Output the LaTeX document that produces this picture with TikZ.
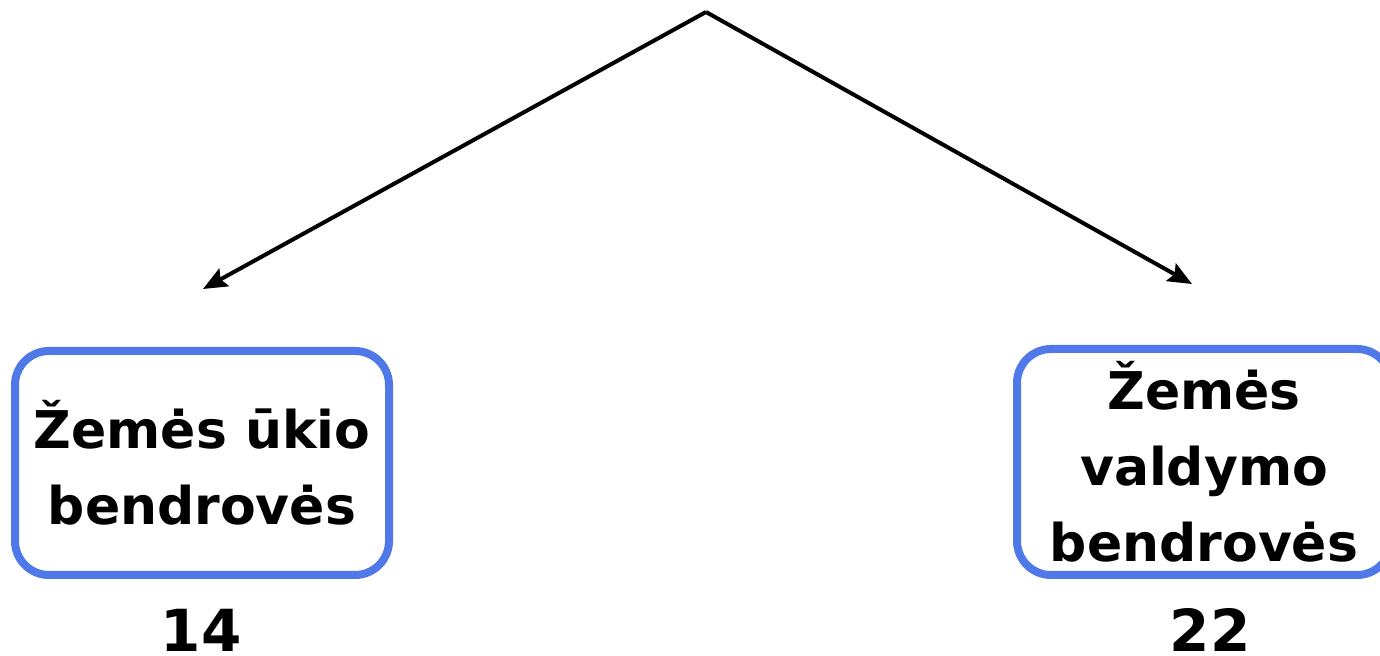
\documentclass[tikz,border=0pt]{standalone}
\usepackage{fontspec}
\setmainfont{DejaVu Sans}
\usetikzlibrary{arrows.meta,positioning}
\definecolor{boxblue}{HTML}{4F79E9}

\begin{document}
\begin{tikzpicture}[x=0.5pt,y=-0.5pt,->,>={Stealth[length=12pt,width=10pt,inset=2pt]},
                firm/.style={rounded corners=17pt,draw=boxblue,line width=4pt,
                    align=center,inner sep=0pt,
                    font=\bfseries\fontsize{26}{38}\selectfont},
                count/.style={anchor=base,inner sep=0pt,font=\bfseries\fontsize{29}{32}\selectfont},
                split/.style={line width=2pt,black}]
            \useasboundingbox (0,0) rectangle (1380,656);
            \coordinate (top)   at (706,12);
            \coordinate (lend)  at (203,289);
            \coordinate (rend)  at (1192,284);

            \node [firm,minimum width=187pt,minimum height=112pt] (ukio)   at (202,463)
                {Žemės ūkio\\bendrovės};
            \node [firm,minimum width=187pt,minimum height=113pt] (valdym) at (1204,462)
                {Žemės\\valdymo\\bendrovės};
            \node [count] (nukio)   at (201,651)  {14};
            \node [count] (nvaldym) at (1210,651) {22};

            \draw [split] (top) -- (lend);
            \draw [split] (top) -- (rend);
        \end{tikzpicture}
\end{document}
